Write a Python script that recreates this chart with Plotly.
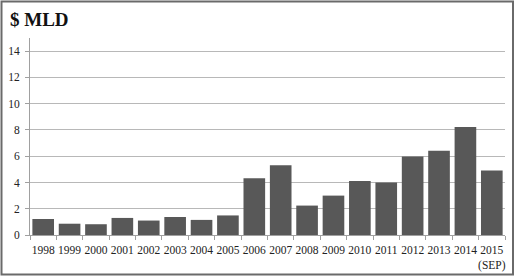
import plotly.graph_objects as go

years = ["1998", "1999", "2000", "2001", "2002", "2003", "2004", "2005", "2006",
         "2007", "2008", "2009", "2010", "2011", "2012", "2013", "2014", "2015<br>(SEP)"]
values = [1.22, 0.86, 0.82, 1.3, 1.1, 1.37, 1.15, 1.49, 4.32,
          5.32, 2.24, 3.0, 4.12, 4.0, 5.98, 6.42, 8.22, 4.92]
title_text = "$ MLD"

W, H = 516, 278
ml, mr, mt, mb = 30, 11, 38, 43
pw, ph = W - ml - mr, H - mt - mb
serif = "Liberation Serif"

fig = go.Figure(go.Bar(x=years, y=values, marker=dict(color="#585858", line=dict(width=0)),
                       width=0.82))

fig.update_layout(
    width=W, height=H,
    margin=dict(l=ml, r=mr, t=mt, b=mb, pad=0, autoexpand=False),
    paper_bgcolor="white", plot_bgcolor="white",
    showlegend=False,
    font=dict(family=serif, size=11, color="#222"),
    bargap=0.18,
)
fig.update_yaxes(range=[0, 15], tickvals=[0, 2, 4, 6, 8, 10, 12, 14],
                 showgrid=True, gridcolor="#b8b8b8", gridwidth=1,
                 showline=True, linecolor="#a0a0a0", linewidth=1,
                 ticks="outside", ticklen=4, tickcolor="#a0a0a0",
                 zeroline=False, ticklabelstandoff=3, automargin=False,
                 tickfont=dict(family=serif, size=11.5, color="#222"))
fig.update_xaxes(showline=True, linecolor="#a0a0a0", linewidth=1,
                 ticks="outside", tickson="boundaries", ticklen=4, tickcolor="#a0a0a0",
                 tickangle=0, ticklabelstandoff=4, automargin=False,
                 tickfont=dict(family=serif, size=11.5, color="#222"))

fig.add_annotation(text="<b>" + title_text + "</b>", xref="paper", yref="paper",
                   x=-22 / pw, y=1 + 19 / ph, xanchor="left", yanchor="middle",
                   showarrow=False, font=dict(family=serif, size=19, color="#111"))

fig.add_shape(type="rect", xref="paper", yref="paper",
              x0=-(ml - 1.5) / pw, x1=1 + (mr - 3) / pw,
              y0=-(mb - 3.5) / ph, y1=1 + (mt - 1.5) / ph,
              line=dict(color="#6a6a6a", width=2), fillcolor="rgba(0,0,0,0)", layer="above")

fig.write_html("out.html")
